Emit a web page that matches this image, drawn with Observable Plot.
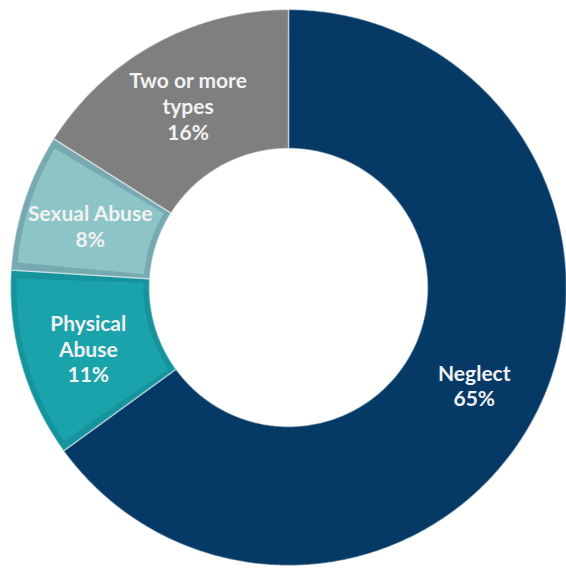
<!DOCTYPE html>
<html>
<head>
<meta charset="utf-8">
<script src="https://cdn.jsdelivr.net/npm/d3@7"></script>
<script src="https://cdn.jsdelivr.net/npm/@observablehq/plot@0.6"></script>
<style>
  html, body { margin: 0; padding: 0; background: #ffffff; }
  #chart { width: 566px; height: 569px; }
</style>
</head>
<body>
<div id="chart"></div>
<script>
// Data
const categories = ["Neglect", "Physical Abuse", "Sexual Abuse", "Two or more types"];
const labels = ["Neglect", "Physical\nAbuse", "Sexual Abuse", "Two or more\ntypes"];
const values = [65, 11, 8, 16];
const colors = ["#063a66", "#1ba3ac", "#8cc4c7", "#7f7f7f"];
const rimColors = ["#063a66", "#16949d", "#76aab0", "#7f7f7f"];

const W = 566, H = 569;
const R_OUT = 1, R_IN = 0.5;

const pie = d3.pie().sort(null).value(d => d.value).startAngle(0).endAngle(2 * Math.PI);
const arcs = pie(categories.map((c, i) => ({ type: c, value: values[i], i })));

function ring(a0, a1, r0, r1, key) {
  const pts = [];
  const n = Math.max(8, Math.ceil((a1 - a0) / 0.01));
  for (let k = 0; k <= n; k++) {
    const a = a0 + (a1 - a0) * k / n;
    pts.push({ key, x: r1 * Math.sin(a), y: r1 * Math.cos(a) });
  }
  for (let k = n; k >= 0; k--) {
    const a = a0 + (a1 - a0) * k / n;
    pts.push({ key, x: r0 * Math.sin(a), y: r0 * Math.cos(a) });
  }
  pts.push(pts[0]);
  return pts;
}

const basePts = arcs.flatMap(a => ring(a.startAngle, a.endAngle, R_IN, R_OUT, a.data.type));
const inset = 0.022;
const innerPts = arcs.flatMap(a => {
  const r0 = R_IN + inset, r1 = R_OUT - inset;
  const da = inset / 0.75;
  return ring(a.startAngle + da, a.endAngle - da, r0, r1, a.data.type);
});

const labelData = arcs.map(a => {
  const mid = (a.startAngle + a.endAngle) / 2;
  const r = 0.75;
  return {
    type: a.data.type,
    text: labels[a.data.i] + "\n" + a.data.value + "%",
    x: r * Math.sin(mid),
    y: r * Math.cos(mid)
  };
});

const textStyle = {
  x: "x", y: "y", text: "text",
  fill: "#f2f2f2",
  fontSize: 21,
  fontWeight: "bold",
  lineHeight: 1.22,
  fontFamily: "Lato, 'Open Sans', sans-serif"
};

const plot = Plot.plot({
  width: W,
  height: H,
  marginLeft: 10,
  marginRight: 0,
  marginTop: 9,
  marginBottom: 4,
  x: { domain: [-1, 1], axis: null },
  y: { domain: [-1, 1], axis: null },
  color: { domain: categories, range: colors },
  style: { background: "#ffffff" },
  marks: [
    Plot.line(basePts, {
      x: "x", y: "y", z: "key",
      fill: d => rimColors[categories.indexOf(d.key)],
      stroke: "#ffffff", strokeOpacity: 0.45, strokeWidth: 1.5,
      curve: "linear-closed"
    }),
    Plot.line(innerPts, {
      x: "x", y: "y", z: "key",
      fill: "key",
      curve: "linear-closed"
    }),
    Plot.text(labelData.filter(d => d.type !== "Two or more types"), { ...textStyle, dy: 3 }),
    Plot.text(labelData.filter(d => d.type === "Two or more types"), { ...textStyle, dy: 1 })
  ]
});

document.getElementById("chart").appendChild(plot);
</script>
</body>
</html>
